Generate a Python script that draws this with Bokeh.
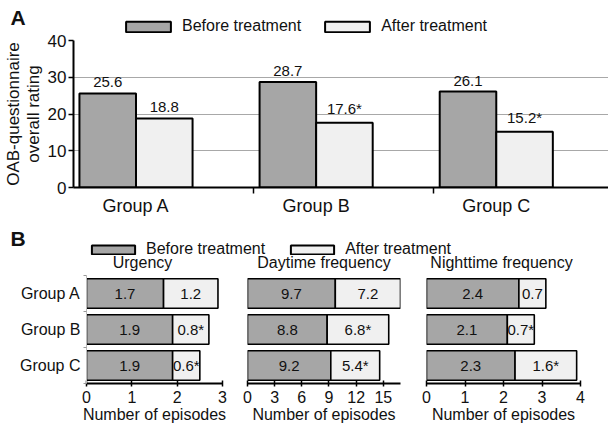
from bokeh.plotting import figure
from bokeh.models import (ColumnDataSource, Range1d, FixedTicker, LabelSet, Label,
                          Legend, LegendItem)
from bokeh.layouts import column, row
from bokeh.transform import dodge
from bokeh.core.properties import value
from bokeh.embed import file_html
from bokeh.resources import INLINE

# ---------------- data ----------------
groups = ["Group A", "Group B", "Group C"]
series = ["Before treatment", "After treatment"]

oab_before = [25.6, 28.7, 26.1]
oab_after = [18.8, 17.6, 15.2]
oab_after_sig = [False, True, True]
oab_ticks = [0, 10, 20, 30, 40]

urg_before = [1.7, 1.9, 1.9]
urg_after = [1.2, 0.8, 0.6]
urg_sig = [False, True, True]
urg_ticks = [0, 1, 2, 3]

day_before = [9.7, 8.8, 9.2]
day_after = [7.2, 6.8, 5.4]
day_sig = [False, True, True]
day_ticks = [0, 3, 6, 9, 12, 15]

night_before = [2.4, 2.1, 2.3]
night_after = [0.7, 0.7, 1.6]
night_sig = [False, True, True]
night_ticks = [0, 1, 2, 3, 4]

panel_titles = ["Urgency", "Daytime frequency", "Nighttime frequency"]
x_title = "Number of episodes"
y_title_A = "OAB-questionnaire\noverall rating"

# ---------------- style ----------------
FONT = "Liberation Sans"
BEFORE = "#a6a6a6"
AFTER = "#f0f0f0"
TXT = "#111111"
GRID = "#a8a8a8"
W = 608


def lbl(v, s=False):
    return f"{v}" + ("*" if s else "")


idx = list(range(len(groups)))
srcA = ColumnDataSource(dict(
    x=idx, before=oab_before, after=oab_after,
    before_lbl=[lbl(v) for v in oab_before],
    after_lbl=[lbl(v, s) for v, s in zip(oab_after, oab_after_sig)]))


def header(h):
    p = figure(width=W, height=h, output_backend="svg", toolbar_location=None,
               x_range=Range1d(0, W), y_range=Range1d(h, 0),
               x_axis_location=None, y_axis_location=None,
               min_border_left=0, min_border_right=0, min_border_top=0,
               min_border_bottom=0)
    p.outline_line_color = None
    p.grid.visible = False
    # legend swatches: renderers that share the bars' look, not drawn themselves
    hb = p.vbar(x="x", top="before", width=0.3, source=srcA, fill_color=BEFORE,
                line_color="black", line_width=2, visible=False)
    ha = p.vbar(x="x", top="after", width=0.3, source=srcA, fill_color=AFTER,
                line_color="black", line_width=2, visible=False)
    return p, hb, ha


def add_legend(p, hb, ha, loc, gw, gh, spacing):
    leg = Legend(items=[LegendItem(label=series[0], renderers=[hb]),
                        LegendItem(label=series[1], renderers=[ha])],
                 orientation="horizontal", location=loc, click_policy="none",
                 glyph_width=gw, glyph_height=gh, label_height=gh, label_standoff=6,
                 spacing=spacing, padding=0, margin=0, border_line_color=None,
                 background_fill_alpha=0, label_text_font=FONT,
                 label_text_font_size="16px", label_text_color=TXT)
    p.add_layout(leg)


def text_label(p, x, y, t, size, bold=False, align="left"):
    p.add_layout(Label(x=x, y=y, text=t, text_align=align, text_baseline="middle",
                       text_font=FONT, text_font_size=size,
                       text_font_style="bold" if bold else "normal",
                       text_color=TXT))


# ---------------- header A ----------------
hA, hAb, hAa = header(33)
add_legend(hA, hAb, hAa, (120, -2), 56, 13, 18)
text_label(hA, 10, 17, "A", "21px", bold=True)

# ---------------- panel A ----------------
xA0 = -0.347
pA = figure(width=W, height=189, output_backend="svg", toolbar_location=None,
            x_range=Range1d(xA0, 2.623), y_range=Range1d(0, 40),
            min_border_left=69, min_border_right=0, min_border_top=7,
            min_border_bottom=35)
pA.outline_line_color = None

bw = 0.314
pA.vbar(x=dodge("x", -bw / 2), top="before", width=bw, source=srcA,
        fill_color=BEFORE, line_color="black", line_width=2)
pA.vbar(x=dodge("x", bw / 2), top="after", width=bw, source=srcA,
        fill_color=AFTER, line_color="black", line_width=2)

for fld, txt, off in [("before", "before_lbl", -bw / 2), ("after", "after_lbl", bw / 2)]:
    pA.add_layout(LabelSet(x=dodge("x", off), y=fld, text=txt, source=srcA,
                           text_align="center", text_baseline="bottom", y_offset=6,
                           text_font=value(FONT), text_font_size="15px",
                           text_color=TXT))

pA.xaxis.ticker = FixedTicker(ticks=idx, minor_ticks=[xA0 + 1, xA0 + 2])
pA.xaxis.major_label_overrides = {i: g for i, g in zip(idx, groups)}
pA.xaxis.major_tick_out = 0
pA.xaxis.major_tick_in = 0
pA.xaxis.minor_tick_out = 6
pA.xaxis.minor_tick_in = 0
pA.xaxis.minor_tick_line_width = 1.5
pA.xaxis.axis_line_width = 2
pA.xaxis.major_label_text_font = FONT
pA.xaxis.major_label_text_font_size = "18px"
pA.xaxis.major_label_text_color = TXT
pA.xaxis.major_label_standoff = 2
pA.xgrid.visible = False

pA.yaxis.ticker = FixedTicker(ticks=oab_ticks)
pA.yaxis.minor_tick_line_color = None
pA.yaxis.major_tick_out = 5
pA.yaxis.major_tick_in = 0
pA.yaxis.major_tick_line_width = 1.5
pA.yaxis.axis_line_width = 2
pA.yaxis.major_label_text_font = FONT
pA.yaxis.major_label_text_font_size = "17px"
pA.yaxis.major_label_text_color = TXT
pA.yaxis.major_label_standoff = 2
pA.yaxis.axis_label = y_title_A
pA.yaxis.axis_label_text_font = FONT
pA.yaxis.axis_label_text_font_size = "17px"
pA.yaxis.axis_label_text_font_style = "normal"
pA.yaxis.axis_label_text_color = TXT
pA.yaxis.axis_label_text_line_height = 1.05
pA.yaxis.axis_label_standoff = 2
pA.ygrid.grid_line_color = GRID
pA.ygrid.grid_line_width = 1

# ---------------- header B ----------------
hB, hBb, hBa = header(53)
add_legend(hB, hBb, hBa, (86, 17), 54, 11, 20)
text_label(hB, 10, 15.5, "B", "21px", bold=True)
for t, xc in zip(panel_titles, [142, 323.5, 501]):
    text_label(hB, xc, 40, t, "16px", align="center")


# ---------------- panel B ----------------
def hpanel(before, after, sig, ticks, xmax, width, bl, br, show_groups):
    p = figure(width=width, height=151, output_backend="svg", toolbar_location=None,
               x_range=Range1d(0, xmax), y_range=Range1d(2.5, -0.5),
               min_border_left=bl, min_border_right=br, min_border_top=0,
               min_border_bottom=43)
    p.outline_line_color = None
    p.grid.visible = False
    src = ColumnDataSource(dict(
        y=idx, before=before, after=after,
        end=[b + a for b, a in zip(before, after)],
        bmid=[b / 2 for b in before],
        amid=[b + a / 2 for b, a in zip(before, after)],
        blbl=[lbl(v) for v in before],
        albl=[lbl(v, s) for v, s in zip(after, sig)]))
    p.hbar(y="y", left=0, right="before", height=0.82, source=src,
           fill_color=BEFORE, line_color="black", line_width=1.6)
    p.hbar(y="y", left="before", right="end", height=0.82, source=src,
           fill_color=AFTER, line_color="black", line_width=1.6)
    for xf, tf in [("bmid", "blbl"), ("amid", "albl")]:
        p.add_layout(LabelSet(x=xf, y="y", text=tf, source=src, text_align="center",
                              text_baseline="middle", text_font=value(FONT),
                              text_font_size="15px", text_color=TXT))
    xa = p.xaxis[0]
    xa.ticker = FixedTicker(ticks=ticks)
    xa.minor_tick_line_color = None
    xa.major_tick_in = 3
    xa.major_tick_out = 3
    xa.major_tick_line_width = 1.5
    xa.axis_line_width = 2
    xa.major_label_text_font = FONT
    xa.major_label_text_font_size = "16px"
    xa.major_label_text_color = TXT
    xa.major_label_standoff = 4
    xa.axis_label = x_title
    xa.axis_label_text_font = FONT
    xa.axis_label_text_font_size = "16px"
    xa.axis_label_text_font_style = "normal"
    xa.axis_label_text_color = TXT
    xa.axis_label_standoff = 0
    ya = p.yaxis[0]
    if show_groups:
        ya.ticker = FixedTicker(ticks=idx, minor_ticks=[-0.5, 0.5, 1.5, 2.5])
        ya.major_label_overrides = {i: g for i, g in zip(idx, groups)}
        ya.major_tick_out = 0
        ya.major_tick_in = 0
        ya.minor_tick_out = 3
        ya.minor_tick_in = 0
        ya.minor_tick_line_color = "#999999"
        ya.axis_line_color = "#bbbbbb"
        ya.major_label_text_font = FONT
        ya.major_label_text_font_size = "16px"
        ya.major_label_text_color = TXT
        ya.major_label_standoff = 3
    else:
        ya.visible = False
    return p


pU = hpanel(urg_before, urg_after, urg_sig, urg_ticks, 3.0, 235, 86, 13, True)
pD = hpanel(day_before, day_after, day_sig, day_ticks, 16.9, 178, 12, 13, False)
pN = hpanel(night_before, night_after, night_sig, night_ticks, 4.0, 195, 13, 28, False)

# each figure in its own row so that the column does not align their frames
layout = column(row(hA), row(pA), row(hB), row(pU, pD, pN))
open("out.html", "w").write(file_html(layout, INLINE))
